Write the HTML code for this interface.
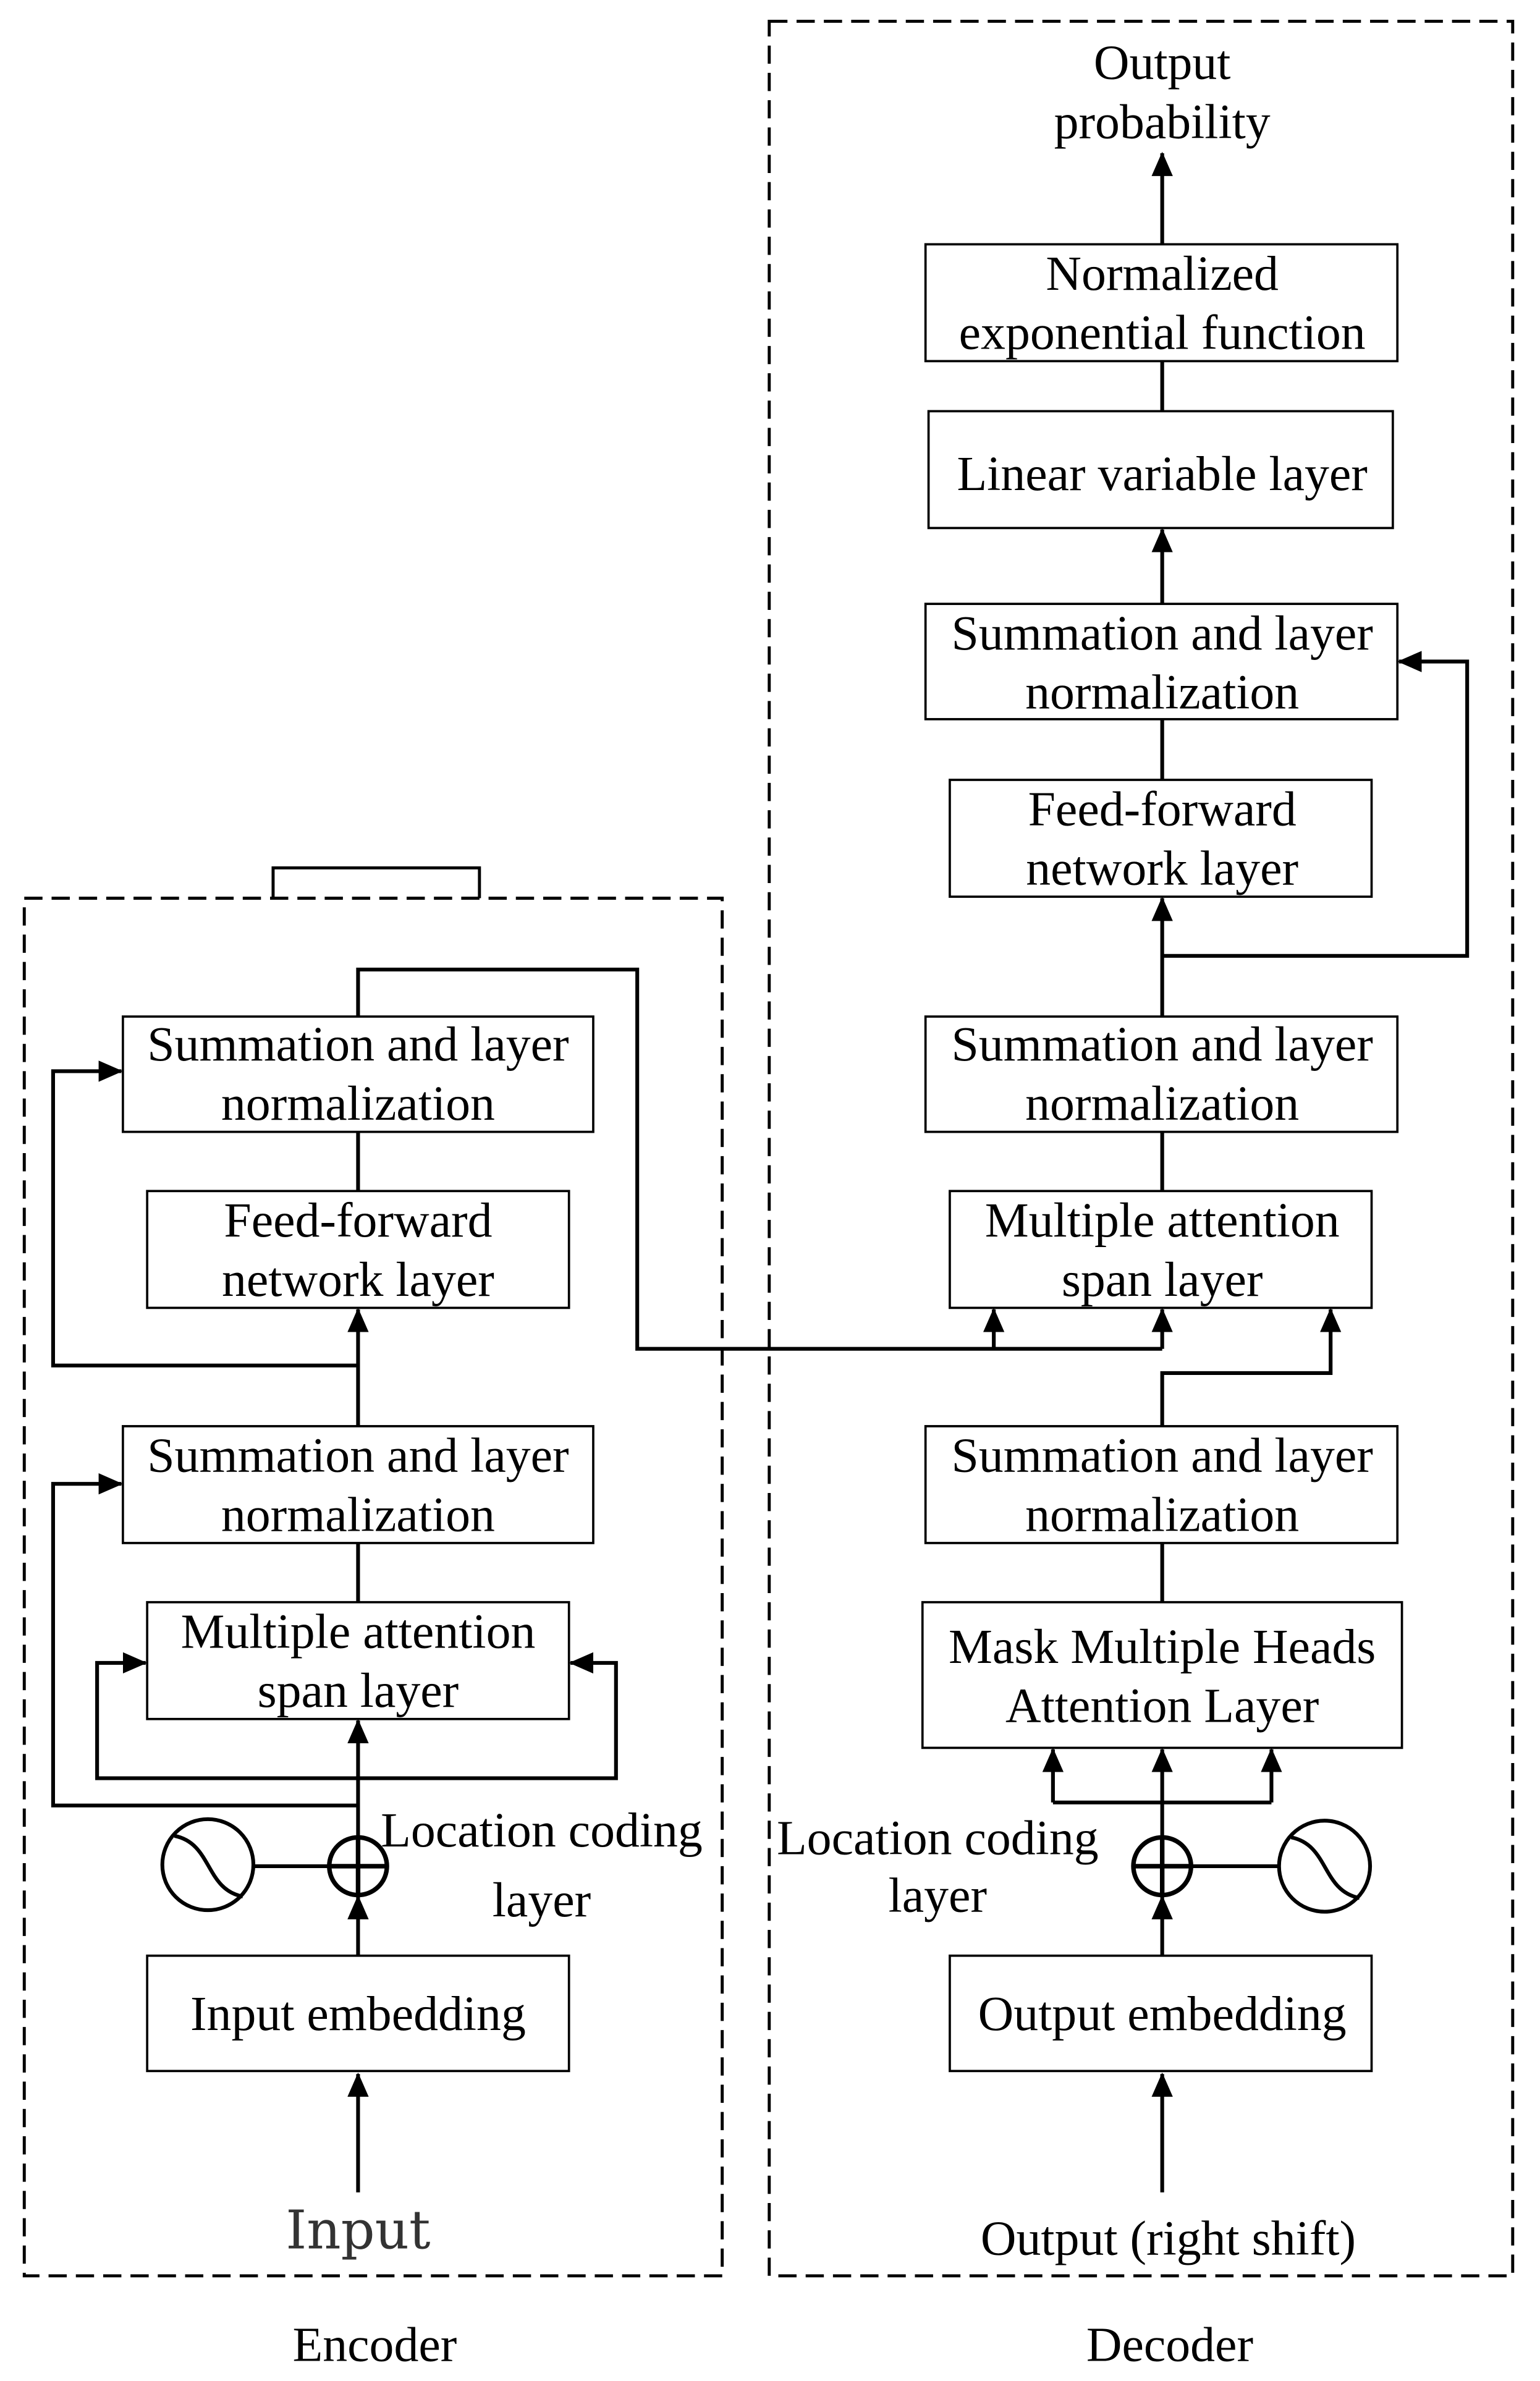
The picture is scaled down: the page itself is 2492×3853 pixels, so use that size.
<!DOCTYPE html>
<html><head><style>html,body{margin:0;padding:0;background:#fff}svg{display:block}</style></head><body>
<svg width="2492" height="3853" viewBox="0 0 1015 1569.3" xmlns="http://www.w3.org/2000/svg" font-family="Liberation Serif, serif" font-size="32.5" text-anchor="middle">
<defs>
<marker id="b" markerWidth="16" markerHeight="16" refX="15" refY="8" orient="auto" markerUnits="userSpaceOnUse" viewBox="0 0 16 16"><path d="M0,1 L16,8 L0,15 Z" fill="#000"/></marker></defs>
<rect width="1015" height="1570" fill="#fff"/>
<g fill="none" stroke="#000" stroke-width="2" stroke-dasharray="12,6">
<rect x="16" y="592" width="460" height="908"/>
<rect x="507" y="14" width="490" height="1486"/>
</g>
<polyline points="180,592 180,572 316,572 316,592" fill="none" stroke="#000" stroke-width="2"/>
<g fill="#fff" stroke="#000" stroke-width="1.5">
<rect x="81" y="670" width="310" height="76"/>
<rect x="97" y="785" width="278" height="77"/>
<rect x="81" y="940" width="310" height="77"/>
<rect x="97" y="1056" width="278" height="77"/>
<rect x="97" y="1289" width="278" height="76"/>
<rect x="610" y="161" width="311" height="77"/>
<rect x="612" y="271" width="306" height="77"/>
<rect x="610" y="398" width="311" height="76"/>
<rect x="626" y="514" width="278" height="77"/>
<rect x="610" y="670" width="311" height="76"/>
<rect x="626" y="785" width="278" height="77"/>
<rect x="610" y="940" width="311" height="77"/>
<rect x="608" y="1056" width="316" height="96"/>
<rect x="626" y="1289" width="278" height="76"/>
</g>
<g fill="none" stroke="#000" stroke-width="2.5">
<line x1="236" y1="1445" x2="236" y2="1367" marker-end="url(#b)"/>
<line x1="236" y1="1289" x2="236" y2="1250" marker-end="url(#b)"/>
<line x1="236" y1="1211" x2="236" y2="1134" marker-end="url(#b)"/>
<polyline points="236,1190 35,1190 35,978 80,978" marker-end="url(#b)"/>
<polyline points="236,1172 64,1172 64,1096 96,1096" marker-end="url(#b)"/>
<polyline points="236,1172 406,1172 406,1096 376,1096" marker-end="url(#b)"/>
<line x1="236" y1="1056" x2="236" y2="1017"/>
<line x1="236" y1="940" x2="236" y2="863" marker-end="url(#b)"/>
<polyline points="236,900 35,900 35,706 80,706" marker-end="url(#b)"/>
<line x1="236" y1="785" x2="236" y2="746"/>
<polyline points="236,670 236,639 420,639 420,889 766,889"/>
<line x1="655" y1="889" x2="655" y2="863" marker-end="url(#b)"/>
<line x1="766" y1="889" x2="766" y2="863" marker-end="url(#b)"/>
<polyline points="766,940 766,905 877,905 877,863" marker-end="url(#b)"/>
<line x1="766" y1="1445" x2="766" y2="1367" marker-end="url(#b)"/>
<line x1="766" y1="1289" x2="766" y2="1250" marker-end="url(#b)"/>
<polyline points="766,1211 766,1188"/>
<polyline points="694,1188 838,1188"/>
<line x1="694" y1="1188" x2="694" y2="1153" marker-end="url(#b)"/>
<line x1="766" y1="1188" x2="766" y2="1153" marker-end="url(#b)"/>
<line x1="838" y1="1188" x2="838" y2="1153" marker-end="url(#b)"/>
<line x1="766" y1="1056" x2="766" y2="1017"/>
<line x1="766" y1="785" x2="766" y2="746"/>
<line x1="766" y1="670" x2="766" y2="592" marker-end="url(#b)"/>
<polyline points="766,630 967,630 967,436 922,436" marker-end="url(#b)"/>
<line x1="766" y1="514" x2="766" y2="474"/>
<line x1="766" y1="398" x2="766" y2="349" marker-end="url(#b)"/>
<line x1="766" y1="271" x2="766" y2="238"/>
<line x1="766" y1="161" x2="766" y2="101" marker-end="url(#b)"/>
<line x1="167" y1="1230" x2="217" y2="1230"/>
<line x1="785" y1="1230" x2="843" y2="1230"/>
</g>
<g fill="#fff" stroke="#000" stroke-width="3">
<circle cx="236" cy="1230" r="19"/><circle cx="766" cy="1230" r="19"/>
<circle cx="137" cy="1229" r="30" stroke-width="2.5"/><circle cx="873" cy="1230" r="30" stroke-width="2.5"/>
</g>
<g stroke="#000" stroke-width="3" fill="none">
<line x1="217" y1="1230" x2="255" y2="1230"/><line x1="236" y1="1211" x2="236" y2="1249"/>
<line x1="747" y1="1230" x2="785" y2="1230"/><line x1="766" y1="1211" x2="766" y2="1249"/>
<path d="M115,1210 C140,1215 135,1245 160,1250" stroke-width="2.5"/>
<path d="M851,1211 C876,1216 871,1246 896,1251" stroke-width="2.5"/>
</g>
<g fill="#000">
<text x="236" y="699">Summation and layer</text><text x="236" y="738">normalization</text>
<text x="236" y="815">Feed-forward</text><text x="236" y="854">network layer</text>
<text x="236" y="970">Summation and layer</text><text x="236" y="1009">normalization</text>
<text x="236" y="1086">Multiple attention</text><text x="236" y="1125">span layer</text>
<text x="236" y="1338">Input embedding</text>
<text x="236" y="1482" font-size="35" font-family="DejaVu Serif, serif" fill="#333">Input</text>
<text x="357" y="1217">Location coding</text><text x="357" y="1263">layer</text>
<text x="618" y="1222">Location coding</text><text x="618" y="1260">layer</text>
<text x="766" y="52">Output</text><text x="766" y="91">probability</text>
<text x="766" y="191">Normalized</text><text x="766" y="230">exponential function</text>
<text x="766" y="323">Linear variable layer</text>
<text x="766" y="428">Summation and layer</text><text x="766" y="467">normalization</text>
<text x="766" y="544">Feed-forward</text><text x="766" y="583">network layer</text>
<text x="766" y="699">Summation and layer</text><text x="766" y="738">normalization</text>
<text x="766" y="815">Multiple attention</text><text x="766" y="854">span layer</text>
<text x="766" y="970">Summation and layer</text><text x="766" y="1009">normalization</text>
<text x="766" y="1096">Mask Multiple Heads</text><text x="766" y="1135">Attention Layer</text>
<text x="766" y="1338">Output embedding</text>
<text x="770" y="1486">Output (right shift)</text>
<text x="247" y="1556">Encoder</text>
<text x="771" y="1556">Decoder</text>
</g>
</svg>
</body></html>
